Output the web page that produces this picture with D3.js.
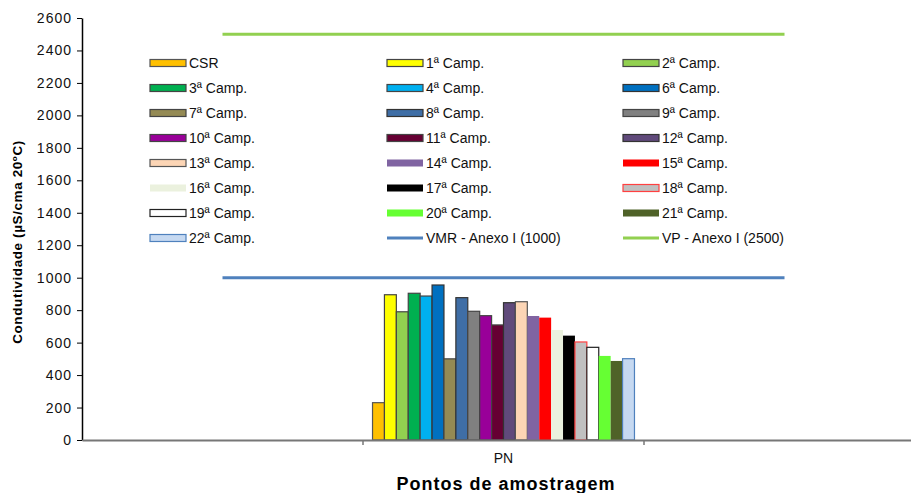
<!DOCTYPE html>
<html>
<head>
<meta charset="utf-8">
<script src="https://cdn.jsdelivr.net/npm/d3@7"></script>
<style>
  body { margin: 0; background: #fff; overflow: hidden; }
  svg { font-family: "Liberation Sans", Arial, sans-serif; }
</style>
</head>
<body>
<div id="chart"></div>
<script>
// categories on the x axis (empty ones on each side, as in the sheet)
const categories = ["", "PN", ""];

// bar series (single category: PN)
const seriesNames = ["CSR", "1ª Camp.", "2ª Camp.", "3ª Camp.", "4ª Camp.", "6ª Camp.",
  "7ª Camp.", "8ª Camp.", "9ª Camp.", "10ª Camp.", "11ª Camp.", "12ª Camp.",
  "13ª Camp.", "14ª Camp.", "15ª Camp.", "16ª Camp.", "17ª Camp.", "18ª Camp.",
  "19ª Camp.", "20ª Camp.", "21ª Camp.", "22ª Camp."];
const seriesValues = [230, 895, 790, 904, 887, 955, 500, 877, 793, 766, 709, 846,
  852, 764, 754, 678, 643, 604, 571, 518, 487, 501];
const fills = ["#ffc000", "#ffff00", "#92d050", "#00b050", "#00b0f0", "#0070c0",
  "#948a54", "#3f6ea6", "#808080", "#990099", "#660033", "#604a7b",
  "#fcd5b5", "#8064a2", "#ff0000", "#ebf1de", "#000000", "#c0c0c0",
  "#ffffff", "#66ff33", "#4f6228", "#c6d9f1"];
const strokes = ["#555", "#444", "#444", "#444", "#444", "#333",
  "#444", "#333", "#444", "#444", "#444", "#333",
  "#555", "none", "none", "none", "none", "#ff4040",
  "#222", "none", "none", "#4f81bd"];

// reference lines
const lineNames = ["VMR - Anexo I (1000)", "VP - Anexo I (2500)"];
const lineValues = [[1000, 1000, 1000], [2500, 2500, 2500]];
const lineColors = ["#4f81bd", "#92d050"];

const yTicks = d3.range(0, 2601, 200);

const width = 911, height = 493;
// plot area runs a little past the right edge of the picture
const margin = { left: 82, right: -14, top: 18, bottom: 53 };

const svg = d3.select("#chart").append("svg")
  .attr("width", width)
  .attr("height", height);

const x = d3.scaleBand()
  .domain(d3.range(categories.length))
  .range([margin.left, width - margin.right]);

const x1 = d3.scaleBand()
  .domain(seriesNames)
  .range([0, x.bandwidth()])
  .paddingInner(0)
  .paddingOuter(0.8);

const y = d3.scaleLinear()
  .domain([0, 2600])
  .range([height - margin.bottom, margin.top]);

// bars
svg.append("g")
  .selectAll("rect")
  .data(seriesNames)
  .join("rect")
  .attr("x", d => x(1) + x1(d))
  .attr("y", (d, i) => y(seriesValues[i]))
  .attr("width", x1.bandwidth())
  .attr("height", (d, i) => y(0) - y(seriesValues[i]))
  .attr("fill", (d, i) => fills[i])
  .attr("stroke", (d, i) => strokes[i])
  .attr("stroke-width", 1.2);

// reference lines
const line = d3.line()
  .x((d, i) => x(i) + x.bandwidth() / 2)
  .y(d => y(d));

svg.append("g")
  .selectAll("path")
  .data(lineValues)
  .join("path")
  .attr("d", line)
  .attr("fill", "none")
  .attr("stroke", (d, i) => lineColors[i])
  .attr("stroke-width", 3);

// y axis
const yAxis = svg.append("g")
  .attr("transform", `translate(${margin.left},0)`)
  .call(d3.axisLeft(y).tickValues(yTicks).tickFormat(d3.format("d"))
    .tickSize(5).tickSizeOuter(0).tickPadding(5));
yAxis.select(".domain").attr("stroke", "#000").attr("stroke-width", 1.5);
yAxis.selectAll(".tick line").attr("stroke", "#000");
yAxis.selectAll(".tick text")
  .attr("font-size", 14)
  .attr("letter-spacing", 1)
  .attr("font-family", "'Liberation Sans', Arial, sans-serif")
  .attr("fill", "#111");

// x axis: ticks between categories, labels centred
const xAxis = svg.append("g")
  .attr("transform", `translate(0,${y(0)})`)
  .call(d3.axisBottom(x).tickFormat(i => categories[i]).tickSize(0).tickPadding(13));
xAxis.select(".domain").attr("stroke", "#777").attr("stroke-width", 2);
xAxis.selectAll(".tick text")
  .attr("font-size", 14)
  .attr("font-family", "'Liberation Sans', Arial, sans-serif")
  .attr("fill", "#111");
xAxis.selectAll(".sep")
  .data(d3.range(1, categories.length))
  .join("line")
  .attr("class", "sep")
  .attr("x1", d => x(d)).attr("x2", d => x(d))
  .attr("y1", 0).attr("y2", 5)
  .attr("stroke", "#777")
  .attr("stroke-width", 1.5);

// axis titles
svg.append("text")
  .attr("transform", `translate(22,${(y(0) + y(2600)) / 2 + 13}) rotate(-90)`)
  .attr("text-anchor", "middle")
  .attr("font-size", 13.5)
  .attr("letter-spacing", 0.6)
  .attr("font-weight", "bold")
  .text("Condutividade (µS/cma 20ºC)");

svg.append("text")
  .attr("x", 506)
  .attr("y", 490)
  .attr("text-anchor", "middle")
  .attr("font-size", 18)
  .attr("letter-spacing", 1)
  .attr("font-weight", "bold")
  .text("Pontos de amostragem");

// legend: 3 columns, row-major
const legendItems = seriesNames.map((n, i) => ({ name: n, fill: fills[i], stroke: strokes[i], type: "bar" }))
  .concat(lineNames.map((n, i) => ({ name: n, color: lineColors[i], type: "line" })));
const colX = [150, 387, 623];
const legend = svg.append("g")
  .selectAll("g")
  .data(legendItems)
  .join("g")
  .attr("transform", (d, i) => `translate(${colX[i % 3]},${63 + Math.floor(i / 3) * 25})`);

legend.filter(d => d.type === "bar")
  .append("rect")
  .attr("x", 0).attr("y", -3.5)
  .attr("width", 36).attr("height", 7)
  .attr("fill", d => d.fill)
  .attr("stroke", d => d.stroke)
  .attr("stroke-width", 1.2);

legend.filter(d => d.type === "line")
  .append("line")
  .attr("x1", 0).attr("x2", 36)
  .attr("stroke", d => d.color)
  .attr("stroke-width", 3);

legend.append("text")
  .attr("x", 39)
  .attr("y", 5)
  .attr("font-size", 14)
  .attr("fill", "#111")
  .text(d => d.name);
</script>
</body>
</html>
